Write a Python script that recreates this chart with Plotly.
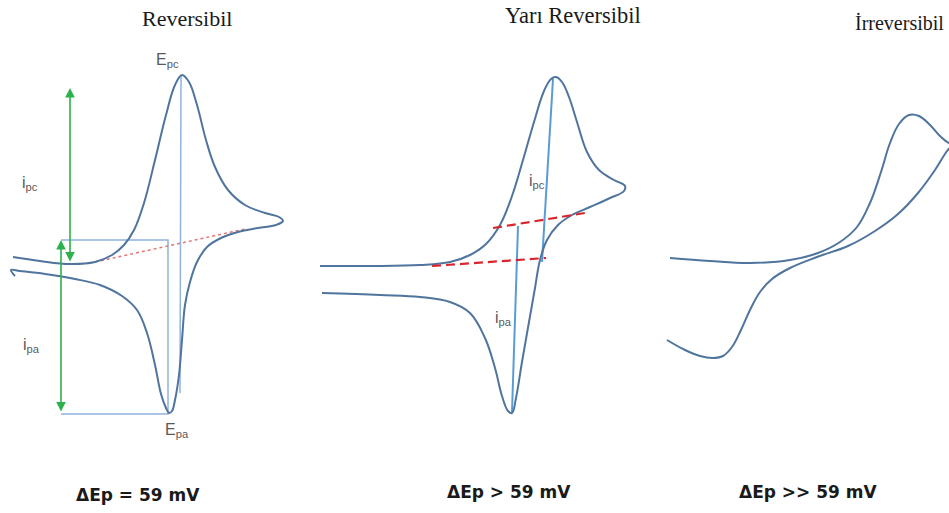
import plotly.graph_objects as go

# Drawing canvas units (schematic potential / current, axis reversed for current)
W, H = 949, 513

# --- Panel 1: Reversibil ---
rev_E = [13, 40, 70, 95, 112, 124, 134, 144, 155, 166, 175, 182, 189, 197, 206, 215, 228,
         245, 265, 279, 283, 276, 258, 238, 221, 207, 197, 190, 185, 182, 179, 175, 172,
         169, 166, 161, 155, 147, 137, 122, 100, 75, 45, 20, 11, 15]
rev_i = [257, 261, 264, 262, 255, 245, 230, 203, 160, 115, 85, 75, 82, 105, 140, 167, 190,
         205, 213, 217, 221, 225, 228, 232, 238, 247, 262, 282, 305, 340, 375, 400, 411,
         413, 408, 394, 365, 333, 310, 296, 285, 279, 274, 271, 270, 276]

# --- Panel 2: Yarı Reversibil ---
qrev_E = [320, 370, 420, 450, 470, 486, 500, 512, 523, 534, 544, 551, 556, 562, 569, 577,
          587, 599, 614, 625, 624, 610, 590, 572, 558, 547, 540, 535, 529, 522, 516, 512,
          508, 502, 495, 485, 470, 450, 420, 380, 322]
qrev_i = [266, 266, 265, 262, 255, 244, 225, 196, 160, 122, 91, 79, 77, 82, 97, 122,
          152, 170, 180, 186, 191, 198, 207, 215, 225, 240, 260, 288, 322, 362, 398, 413,
          411, 396, 368, 338, 313, 302, 297, 295, 293]

# --- Panel 3: İrreversibil ---
irr_E = [670, 710, 750, 790, 818, 840, 857, 870, 881, 890, 899, 909, 919, 930, 941, 949,
         953, 947, 935, 918, 898, 875, 848, 817, 790, 772, 760, 750, 741, 732, 723, 713,
         700, 685, 667]
irr_i = [258, 261, 263, 260, 253, 242, 227, 203, 172, 143, 124, 115, 116, 125, 137, 143,
         144, 151, 170, 193, 214, 231, 246, 257, 268, 279, 292, 310, 330, 347, 356, 358,
         356, 350, 340]

# Guide lines (schematic annotations)
rect_E = [61, 168, 168, 61]
rect_i = [240, 240, 414, 414]
epc_line_E = [181, 180]
epc_line_i = [76, 393]
rev_base_E = [95, 245]
rev_base_i = [262, 229]

q_ipc_E = [553, 542]
q_ipc_i = [79, 262]
q_ipa_E = [518, 512]
q_ipa_i = [226, 412]
q_base1_E = [493, 585]
q_base1_i = [228, 213]
q_base2_E = [432, 546]
q_base2_i = [266, 258]

curve_col = "#4f749e"
guide_col = "#8fb3df"
blue_col = "#5b9bd5"
green_col = "#2bb24c"

fig = go.Figure()

def line(x, y, color, width, dash="solid", shape="linear", smoothing=1.0):
    fig.add_trace(go.Scatter(x=x, y=y, mode="lines", hoverinfo="skip",
                             line=dict(color=color, width=width, dash=dash, shape=shape,
                                       smoothing=smoothing)))

# guides under curves
line(rect_E, rect_i, guide_col, 1.5)
line(epc_line_E, epc_line_i, guide_col, 1.5)
line(rev_base_E, rev_base_i, "#e57373", 1.5, dash="3px,3px")
line(q_ipc_E, q_ipc_i, blue_col, 2)
line(q_ipa_E, q_ipa_i, blue_col, 2)

# curves
line(rev_E, rev_i, curve_col, 2, shape="spline", smoothing=1.1)
line(qrev_E, qrev_i, curve_col, 2, shape="spline", smoothing=1.1)
line(irr_E, irr_i, curve_col, 2, shape="spline", smoothing=1.1)

line(q_base1_E, q_base1_i, "#d9262e", 2.2, dash="9px,5px")
line(q_base2_E, q_base2_i, "#d9262e", 2.2, dash="9px,5px")

# green double arrows
arrows = [((70, 88), (70, 263)), ((61, 240), (61, 413))]
for (x0, y0), (x1, y1) in arrows:
    fig.add_annotation(x=x0, y=y0, ax=x1, ay=y1, xref="x", yref="y", axref="x", ayref="y",
                       text="", showarrow=True, arrowhead=2, startarrowhead=2,
                       arrowside="end+start", arrowsize=1.2, startarrowsize=1.2,
                       arrowwidth=1.6, arrowcolor=green_col)

serif = "Liberation Serif"
titles = [("Reversibil", 187, 18, "center", 22), ("Yarı Reversibil", 573, 15, "center", 22.5),
          ("İrreversibil", 946, 23, "right", 20)]
for t, x, y, anc, sz in titles:
    fig.add_annotation(x=x, y=y, text=t, showarrow=False, xanchor=anc, yanchor="middle",
                       font=dict(family=serif, size=sz, color="#1a1a1a"))

lab_font = dict(family="Liberation Sans", size=16, color="#5a5a5a")
labels = [("E<sub>pc</sub>", 167, 60), ("i<sub>pc</sub>", 30, 183), ("i<sub>pa</sub>", 31, 345),
          ("E<sub>pa</sub>", 177, 430), ("i<sub>pc</sub>", 537, 181), ("i<sub>pa</sub>", 503, 318)]
for t, x, y in labels:
    fig.add_annotation(x=x, y=y, text=t, showarrow=False, xanchor="center", yanchor="middle",
                       font=lab_font)

bottom = [("ΔEp = 59 mV", 138, 495), ("ΔEp > 59 mV", 509, 492), ("ΔEp >> 59 mV", 808, 492)]
for t, x, y in bottom:
    fig.add_annotation(x=x, y=y, text=t, showarrow=False, xanchor="center", yanchor="middle",
                       font=dict(family="DejaVu Sans", size=17, color="#1a1a1a", weight="bold"))

fig.update_layout(width=W, height=H, margin=dict(l=0, r=0, t=0, b=0),
                  paper_bgcolor="white", plot_bgcolor="white", showlegend=False)
fig.update_xaxes(range=[0, W], visible=False, fixedrange=True)
fig.update_yaxes(range=[H, 0], visible=False, fixedrange=True)

fig.write_html("out.html")
